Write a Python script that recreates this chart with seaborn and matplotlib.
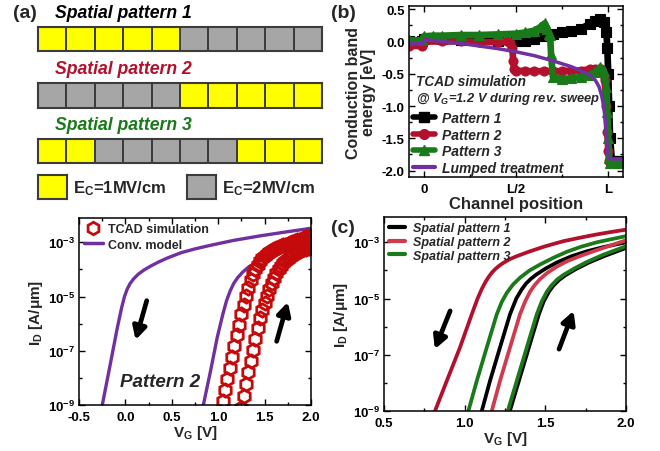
import numpy as np
import matplotlib
matplotlib.use("Agg")
import matplotlib.pyplot as plt
import seaborn as sns
from matplotlib.colors import ListedColormap
from matplotlib.lines import Line2D
from matplotlib.ticker import MultipleLocator, FixedLocator, NullFormatter

sns.set_style("ticks")
plt.rcParams['font.family'] = ['Liberation Sans', 'DejaVu Sans']
plt.rcParams['font.weight'] = 'bold'
plt.rcParams['mathtext.fontset'] = 'custom'
plt.rcParams['mathtext.rm'] = 'Liberation Sans:bold'
plt.rcParams['mathtext.it'] = 'Liberation Sans:bold:italic'
plt.rcParams['mathtext.bf'] = 'Liberation Sans:bold'
plt.rcParams['mathtext.default'] = 'rm'

# ---------------- data ----------------
# (a) spatial patterns of E_C (1 = 1 MV/cm, 2 = 2 MV/cm)
pattern1 = [1, 1, 1, 1, 1, 2, 2, 2, 2, 2]
pattern2 = [2, 2, 2, 2, 2, 1, 1, 1, 1, 1]
pattern3 = [1, 1, 2, 2, 2, 2, 2, 1, 1, 1]

# (b) conduction band energy vs channel position (units of L)
p1_x = [-0.08, -0.01, 0.0, 0.1, 0.2, 0.3, 0.4, 0.5, 0.55, 0.6, 0.65, 0.7, 0.75, 0.8, 0.85,
        0.9, 0.93, 0.955, 0.975, 0.99, 0.995, 1.0, 1.005, 1.01, 1.02, 1.04, 1.06, 1.08]
p1_e = [0.0, 0.0, 0.04, 0.04, 0.03, 0.02, 0.01, 0.0, 0.01, 0.04, 0.09, 0.12, 0.14, 0.16, 0.2,
        0.27, 0.32, 0.35, 0.3, 0.15, -0.1, -0.5, -1.0, -1.5, -1.85, -1.85, -1.85, -1.85]
p2_x = [-0.08, -0.01, 0.0, 0.1, 0.2, 0.3, 0.4, 0.45, 0.47, 0.48, 0.485, 0.49, 0.5, 0.55, 0.6,
        0.65, 0.7, 0.75, 0.8, 0.85, 0.9, 0.93, 0.96, 0.98, 0.99, 0.995, 1.0, 1.005, 1.01, 1.02,
        1.05, 1.08]
p2_e = [-0.07, -0.07, 0.0, 0.0, 0.0, -0.01, -0.01, 0.0, -0.02, -0.1, -0.3, -0.42, -0.45, -0.46,
        -0.46, -0.46, -0.46, -0.46, -0.45, -0.45, -0.43, -0.42, -0.43, -0.6, -1.0, -1.4, -1.7,
        -1.85, -1.87, -1.87, -1.87, -1.87]
p3_x = [-0.08, -0.01, 0.0, 0.05, 0.1, 0.2, 0.3, 0.4, 0.5, 0.55, 0.6, 0.63, 0.655, 0.67, 0.68,
        0.685, 0.69, 0.7, 0.75, 0.8, 0.85, 0.9, 0.93, 0.955, 0.975, 0.99, 0.995, 1.0, 1.005,
        1.01, 1.02, 1.05, 1.08]
p3_e = [0.02, 0.02, 0.08, 0.09, 0.09, 0.1, 0.1, 0.11, 0.12, 0.14, 0.17, 0.22, 0.28, 0.2, 0.12,
        0.1, -0.2, -0.55, -0.58, -0.57, -0.55, -0.52, -0.48, -0.4, -0.45, -0.7, -1.1, -1.5,
        -1.8, -1.88, -1.88, -1.88, -1.88]
lum_x = [-0.08, -0.005, 0.005, 0.1, 0.2, 0.3, 0.4, 0.5, 0.6, 0.7, 0.8, 0.85, 0.9, 0.93, 0.95,
         0.965, 0.975, 0.985, 0.99, 0.995, 1.0, 1.01, 1.08]
lum_e = [-0.03, -0.03, 0.03, 0.0, -0.03, -0.07, -0.11, -0.16, -0.22, -0.3, -0.39, -0.45, -0.52,
         -0.6, -0.7, -0.85, -1.0, -1.25, -1.45, -1.65, -1.78, -1.82, -1.82]

# bottom-left: TCAD vs conventional model, pattern 2 (log10 ID)
tcad_rev_v = [1.025, 1.05, 1.075, 1.1, 1.125, 1.15, 1.175, 1.2, 1.225, 1.25, 1.275, 1.3, 1.325,
              1.35, 1.375, 1.4, 1.425, 1.45, 1.475, 1.5, 1.525, 1.55, 1.575, 1.6, 1.625, 1.65,
              1.675, 1.7, 1.725, 1.75, 1.775, 1.8, 1.825, 1.85, 1.875, 1.9, 1.925, 1.95, 1.975, 2.0]
tcad_rev_log = [-9.25, -8.85, -8.45, -8.05, -7.63, -7.22, -6.82, -6.42, -6.03, -5.65, -5.30,
                -4.97, -4.67, -4.40, -4.17, -3.98, -3.82, -3.69, -3.58, -3.49, -3.42, -3.36,
                -3.31, -3.26, -3.22, -3.18, -3.14, -3.11, -3.08, -3.05, -3.02, -2.99, -2.96,
                -2.93, -2.90, -2.87, -2.84, -2.81, -2.78, -2.75]
tcad_fwd_v = [1.25, 1.275, 1.3, 1.325, 1.35, 1.375, 1.4, 1.425, 1.45, 1.475, 1.5, 1.525, 1.55,
              1.575, 1.6, 1.625, 1.65, 1.675, 1.7, 1.725, 1.75, 1.775, 1.8, 1.825, 1.85, 1.875,
              1.9, 1.925, 1.95, 1.975, 2.0]
tcad_fwd_log = [-9.1, -8.65, -8.22, -7.80, -7.38, -6.97, -6.56, -6.15, -5.80, -5.50, -5.22,
                -4.96, -4.72, -4.50, -4.30, -4.13, -3.98, -3.86, -3.76, -3.67, -3.60, -3.53,
                -3.47, -3.42, -3.37, -3.33, -3.29, -3.26, -3.23, -3.20, -3.17]
conv_rev_v = [-0.275, -0.245, -0.166, -0.09, -0.04, -0.01, 0.02, 0.05, 0.09, 0.14, 0.2, 0.28,
              0.36, 0.45, 0.6, 0.75, 0.9, 1.16, 1.45, 1.72, 2.0]
conv_rev_log = [-9.45, -8.93, -7.55, -6.2, -5.4, -5.0, -4.72, -4.52, -4.34, -4.17, -4.02,
                -3.86, -3.72, -3.58, -3.38, -3.24, -3.12, -2.93, -2.76, -2.62, -2.48]
conv_fwd_v = [0.815, 0.84, 0.92, 0.99, 1.05, 1.09, 1.13, 1.17, 1.21, 1.26, 1.32, 1.42, 1.55,
              1.7, 1.85, 2.0]
conv_fwd_log = [-9.45, -9.0, -7.7, -6.5, -5.65, -5.15, -4.78, -4.5, -4.3, -4.11, -3.93, -3.7,
                -3.47, -3.26, -3.06, -2.86]

# (c) ID-VG for the three spatial patterns (log10 ID)
c_rev1_v = [1.085, 1.106, 1.157, 1.219, 1.281, 1.32, 1.353, 1.38, 1.41, 1.446, 1.50, 1.57,
            1.66, 1.757, 1.86, 2.0]
c_rev1_log = [-9.4, -9.0, -7.93, -6.74, -5.56, -5.0, -4.68, -4.47, -4.3, -4.14, -3.94, -3.72,
              -3.5, -3.32, -3.17, -3.0]
c_rev2_v = [0.79, 0.816, 0.889, 0.971, 1.044, 1.08, 1.106, 1.13, 1.15, 1.17, 1.19, 1.215,
            1.24, 1.28, 1.32, 1.405, 1.50, 1.612, 1.72, 1.819, 1.90, 2.0]
c_rev2_log = [-9.4, -9.0, -7.93, -6.74, -5.56, -5.0, -4.66, -4.4, -4.22, -4.07, -3.95, -3.83,
              -3.73, -3.6, -3.5, -3.32, -3.14, -2.96, -2.83, -2.72, -2.64, -2.55]
c_rev3_v = [0.995, 1.023, 1.075, 1.137, 1.199, 1.23, 1.261, 1.30, 1.343, 1.40, 1.467, 1.55,
            1.632, 1.72, 1.819, 1.90, 2.0]
c_rev3_log = [-9.4, -9.0, -7.93, -6.74, -5.56, -5.12, -4.8, -4.5, -4.26, -4.01, -3.79, -3.55,
              -3.34, -3.16, -3.0, -2.9, -2.78]
c_fwd1_v = [1.258, 1.28, 1.336, 1.398, 1.46, 1.49, 1.522, 1.55, 1.585, 1.625, 1.69, 1.77,
            1.87, 2.0]
c_fwd1_log = [-9.4, -9.0, -7.93, -6.74, -5.56, -5.1, -4.76, -4.54, -4.34, -4.17, -3.95, -3.72,
              -3.48, -3.2]
c_fwd2_v = [1.148, 1.168, 1.219, 1.281, 1.343, 1.375, 1.405, 1.43, 1.465, 1.509, 1.57, 1.632,
            1.71, 1.798, 1.89, 2.0]
c_fwd2_log = [-9.4, -9.0, -7.93, -6.74, -5.56, -5.1, -4.76, -4.55, -4.32, -4.1, -3.87, -3.68,
              -3.5, -3.32, -3.14, -2.93]
c_fwd3_v = [1.245, 1.267, 1.323, 1.385, 1.447, 1.478, 1.509, 1.537, 1.572, 1.612, 1.68, 1.757,
            1.86, 2.0]
c_fwd3_log = [-9.4, -9.0, -7.93, -6.74, -5.56, -5.1, -4.76, -4.54, -4.33, -4.16, -3.93, -3.7,
              -3.44, -3.14]

# colours
YELLOW = '#FFFF00'
GREY = '#A6A6A6'
CELL_EDGE = '#3C3C3C'
RED = '#B2102C'
GREEN = '#1A7A1A'
PURPLE = '#7030A0'
TCAD_RED = '#C40A0A'
RED_FWD = '#D03A4C'

W, H = 660, 452
fig = plt.figure(figsize=(W / 100, H / 100), dpi=100)


def px_axes(x0, y0, x1, y1):
    """axes from pixel box (left, top, right, bottom)"""
    return fig.add_axes([x0 / W, 1 - y1 / H, (x1 - x0) / W, (y1 - y0) / H])


# ---------------- (a) ----------------
cmap = ListedColormap([YELLOW, GREY])
rows = [(pattern1, 28, 52), (pattern2, 84, 109), (pattern3, 140, 164)]
for pat, top, bot in rows:
    ax = px_axes(38, top, 322, bot)
    sns.heatmap(np.array([pat]), ax=ax, cmap=cmap, vmin=1, vmax=2, cbar=False,
                linewidths=1.2, linecolor=CELL_EDGE, xticklabels=False, yticklabels=False)
    for sp in ax.spines.values():
        sp.set_visible(True)
        sp.set_color(CELL_EDGE)
        sp.set_linewidth(1.5)

for val, x0 in [(1, 38), (2, 187)]:
    ax = px_axes(x0, 176, x0 + 29, 200)
    sns.heatmap(np.array([[val]]), ax=ax, cmap=cmap, vmin=1, vmax=2, cbar=False,
                xticklabels=False, yticklabels=False)
    for sp in ax.spines.values():
        sp.set_visible(True)
        sp.set_color(CELL_EDGE)
        sp.set_linewidth(1.5)

fig.text(73 / W, 1 - 189 / H, r'E$_\mathrm{C}$=1MV/cm', fontsize=12, fontweight='bold', va='center')
fig.text(222 / W, 1 - 189 / H, r'E$_\mathrm{C}$=2MV/cm', fontsize=12, fontweight='bold', va='center')

fig.text(13 / W, 1 - 13 / H, '(a)', fontsize=14, fontweight='bold', va='center')
title_kw = dict(fontsize=12.7, fontweight='bold', fontstyle='italic', va='center')
fig.text(55 / W, 1 - 13 / H, 'Spatial pattern 1', color='black', **title_kw)
fig.text(55 / W, 1 - 69 / H, 'Spatial pattern 2', color=RED, **title_kw)
fig.text(55 / W, 1 - 126 / H, 'Spatial pattern 3', color=GREEN, **title_kw)


def style_axes(ax):
    for sp in ax.spines.values():
        sp.set_linewidth(1.1)
        sp.set_color('black')
    ax.tick_params(which='both', direction='in', top=True, right=True, labelsize=9.5,
                   width=1, colors='black')
    ax.tick_params(axis='x', which='both', pad=4)
    ax.tick_params(axis='y', which='both', pad=3)
    ax.tick_params(which='major', length=4)
    ax.tick_params(which='minor', length=2.5)
    ax.grid(False)


arrow_kw = dict(arrowstyle='-|>,head_length=0.75,head_width=0.4', lw=3.4, color='black',
                shrinkA=0, shrinkB=0)

# ---------------- (b) ----------------
axb = px_axes(409, 7, 623, 178)
b_series = [(p1_x, p1_e, 'black', 's', 'Pattern 1'),
            (p2_x, p2_e, RED, 'o', 'Pattern 2'),
            (p3_x, p3_e, GREEN, '^', 'Pattern 3')]
for xs, es, col, mk, lab in b_series:
    sns.lineplot(x=xs, y=es, ax=axb, color=col, lw=4.8, sort=False, estimator=None,
                 marker=mk, markersize=6.5, markeredgecolor=col, markeredgewidth=0.8, legend=False)
sns.lineplot(x=lum_x, y=lum_e, ax=axb, color=PURPLE, lw=2.5, sort=False, estimator=None,
             legend=False)
axb.set_xlim(-0.08, 1.08)
axb.set_ylim(-2.1, 0.55)
axb.set_xticks([0, 0.5, 1.0])
axb.set_xticklabels(['0', 'L/2', 'L'])
axb.xaxis.set_minor_locator(MultipleLocator(0.25))
axb.yaxis.set_minor_locator(MultipleLocator(0.25))
axb.set_yticks([-2.0, -1.5, -1.0, -0.5, 0.0, 0.5])
axb.set_yticklabels(['-2.0', '-1.5', '-1.0', '-0.5', '0.0', '0.5'])
style_axes(axb)
axb.set_xlabel('Channel position', fontsize=12, fontweight='bold', labelpad=1)
axb.set_ylabel('Conduction band\nenergy [eV]', fontsize=11.5, fontweight='bold',
               labelpad=4, linespacing=1.0)
axb.text(0.035, 0.56, 'TCAD simulation', transform=axb.transAxes, fontsize=9.8,
         fontweight='bold', fontstyle='italic', va='center')
axb.text(0.035, 0.46, r'@ $\mathit{V_G}$=1.2 V during rev. sweep', transform=axb.transAxes,
         fontsize=9.3, fontweight='bold', fontstyle='italic', va='center')
b_handles = [Line2D([], [], color=c, lw=4, marker=m, markersize=7) for _, _, c, m, _ in b_series]
b_handles.append(Line2D([], [], color=PURPLE, lw=3))
b_labels = [s[4] for s in b_series] + ['Lumped treatment']
axb.legend(b_handles, b_labels, loc='upper left', bbox_to_anchor=(0.0, 0.41), frameon=False,
           prop={'size': 10, 'weight': 'bold', 'style': 'italic'}, labelspacing=0.18,
           handlelength=1.6, handletextpad=0.5, borderaxespad=0.3, borderpad=0.0)
fig.text(331 / W, 1 - 14 / H, '(b)', fontsize=14, fontweight='bold', va='center')

# ---------------- bottom-left (pattern 2) ----------------
axl = px_axes(79, 219, 311, 406)
axl.set_yscale('log')
sns.lineplot(x=conv_rev_v, y=10 ** np.array(conv_rev_log), ax=axl, color=PURPLE, lw=2.4,
             sort=False, estimator=None, legend=False)
sns.lineplot(x=conv_fwd_v, y=10 ** np.array(conv_fwd_log), ax=axl, color=PURPLE, lw=2.4,
             sort=False, estimator=None, legend=False)
for vs, ls in [(tcad_rev_v, tcad_rev_log), (tcad_fwd_v, tcad_fwd_log)]:
    sns.lineplot(x=vs, y=10 ** np.array(ls), ax=axl, linestyle='none', marker='h',
                 markersize=9.5, markerfacecolor='none', markeredgecolor=TCAD_RED,
                 markeredgewidth=2.0, color=TCAD_RED, sort=False, estimator=None, legend=False)
axl.set_xlim(-0.5, 2.0)
axl.set_ylim(1e-9, 10 ** -2.1)
axl.set_xticks([-0.5, 0.0, 0.5, 1.0, 1.5, 2.0])
axl.set_xticklabels(['-0.5', '0.0', '0.5', '1.0', '1.5', '2.0'])
axl.xaxis.set_minor_locator(MultipleLocator(0.25))
axl.yaxis.set_major_locator(FixedLocator([1e-9, 1e-7, 1e-5, 1e-3]))
axl.set_yticklabels([r'10$^{-9}$', r'10$^{-7}$', r'10$^{-5}$', r'10$^{-3}$'])
axl.yaxis.set_minor_locator(FixedLocator([1e-8, 1e-6, 1e-4]))
axl.yaxis.set_minor_formatter(NullFormatter())
style_axes(axl)
axl.set_xlabel(r'V$_\mathrm{G}$ [V]', fontsize=11, fontweight='bold', labelpad=0)
axl.set_ylabel('I$_\\mathrm{D}$ [A/\u03bcm]', fontsize=11, fontweight='bold', labelpad=2)
l_handles = [Line2D([], [], ls='none', marker='h', markersize=9, markerfacecolor='none',
                    markeredgecolor=TCAD_RED, markeredgewidth=2.0),
             Line2D([], [], color=PURPLE, lw=2.5)]
axl.legend(l_handles, ['TCAD simulation', 'Conv. model'], loc='upper left', frameon=False,
           prop={'size': 9, 'weight': 'bold'}, labelspacing=0.3, handlelength=1.5,
           handletextpad=0.4, borderaxespad=0.3, borderpad=0.1)
axl.annotate('', xy=(0.11, 10 ** -6.6), xytext=(0.23, 10 ** -5.15), arrowprops=arrow_kw)
axl.annotate('', xy=(1.75, 10 ** -5.2), xytext=(1.63, 10 ** -6.65), arrowprops=arrow_kw)
axl.text(0.37, 10 ** -8.15, 'Pattern 2', fontsize=13.5, fontweight='bold', fontstyle='italic',
         ha='center', va='center')

# ---------------- (c) ----------------
axc = px_axes(384, 218, 626, 412)
axc.set_yscale('log')
c_series = [(c_rev1_v, c_rev1_log, 'black'), (c_fwd1_v, c_fwd1_log, 'black'),
            (c_rev2_v, c_rev2_log, RED), (c_fwd2_v, c_fwd2_log, RED_FWD),
            (c_rev3_v, c_rev3_log, GREEN), (c_fwd3_v, c_fwd3_log, GREEN)]
for vs, ls, col in c_series:
    sns.lineplot(x=vs, y=10 ** np.array(ls), ax=axc, color=col, lw=2.7, sort=False,
                 estimator=None, legend=False)
axc.set_xlim(0.5, 2.0)
axc.set_ylim(1e-9, 10 ** -2.1)
axc.set_xticks([0.5, 1.0, 1.5, 2.0])
axc.set_xticklabels(['0.5', '1.0', '1.5', '2.0'])
axc.xaxis.set_minor_locator(MultipleLocator(0.25))
axc.yaxis.set_major_locator(FixedLocator([1e-9, 1e-7, 1e-5, 1e-3]))
axc.set_yticklabels([r'10$^{-9}$', r'10$^{-7}$', r'10$^{-5}$', r'10$^{-3}$'])
axc.yaxis.set_minor_locator(FixedLocator([1e-8, 1e-6, 1e-4]))
axc.yaxis.set_minor_formatter(NullFormatter())
style_axes(axc)
axc.set_xlabel(r'V$_\mathrm{G}$ [V]', fontsize=11, fontweight='bold', labelpad=0)
axc.set_ylabel('I$_\\mathrm{D}$ [A/\u03bcm]', fontsize=11, fontweight='bold', labelpad=2)
c_handles = [Line2D([], [], color='black', lw=3), Line2D([], [], color=RED_FWD, lw=3),
             Line2D([], [], color=GREEN, lw=3)]
axc.legend(c_handles, ['Spatial pattern 1', 'Spatial pattern 2', 'Spatial pattern 3'],
           loc='upper left', frameon=False, prop={'size': 9, 'weight': 'bold', 'style': 'italic'},
           labelspacing=0.15, handlelength=1.3, handletextpad=0.6, borderaxespad=0.3,
           borderpad=0.1)
axc.annotate('', xy=(0.815, 10 ** -6.8), xytext=(0.91, 10 ** -5.44), arrowprops=arrow_kw)
axc.annotate('', xy=(1.675, 10 ** -5.44), xytext=(1.585, 10 ** -6.8), arrowprops=arrow_kw)
fig.text(331 / W, 1 - 229 / H, '(c)', fontsize=14, fontweight='bold', va='center')

fig.savefig('out.png', dpi=100)
